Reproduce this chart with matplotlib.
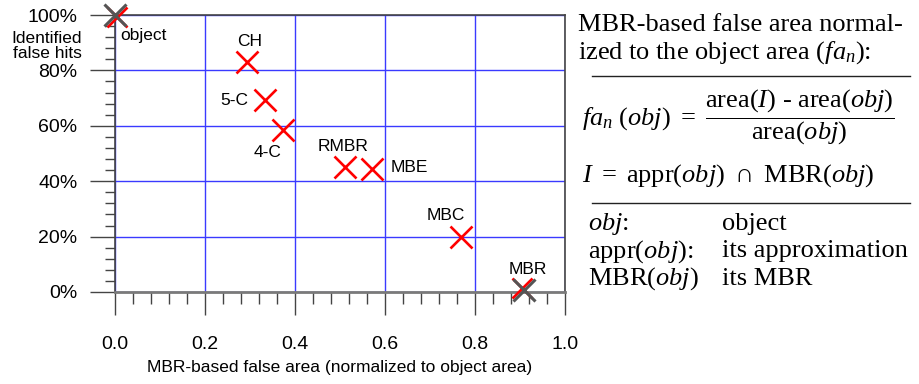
import matplotlib
matplotlib.use("Agg")
import matplotlib.pyplot as plt
from matplotlib.lines import Line2D
from matplotlib.ticker import MultipleLocator, FuncFormatter

# data: approximations (x = MBR-based false area, y = identified false hits in %)
names = ["CH", "5-C", "4-C", "RMBR", "MBE", "MBC"]
false_area = [0.293, 0.333, 0.373, 0.511, 0.571, 0.769]
false_hits = [83.0, 69.3, 58.5, 45.1, 44.4, 19.9]

# reference points drawn in gray
ref_names = ["object", "MBR"]
ref_area = [0.0, 0.908]
ref_hits = [100.0, 0.7]

plt.rcParams["font.family"] = ["Liberation Sans", "DejaVu Sans"]
plt.rcParams["mathtext.fontset"] = "custom"
plt.rcParams["mathtext.rm"] = "Liberation Serif"
plt.rcParams["mathtext.it"] = "Liberation Serif:italic"

W, H = 919, 384
fig = plt.figure(figsize=(W / 100, H / 100), dpi=100)
ax = fig.add_axes([115 / W, 1 - 292 / H, 450 / W, 277 / H])

ax.set_xlim(0, 1.0)
ax.set_ylim(0, 100)

ax.xaxis.set_major_locator(MultipleLocator(0.2))
ax.xaxis.set_minor_locator(MultipleLocator(0.04))
ax.yaxis.set_major_locator(MultipleLocator(20))
ax.yaxis.set_minor_locator(MultipleLocator(4))
ax.yaxis.set_major_formatter(FuncFormatter(lambda v, p: "%d%%" % v))
ax.xaxis.set_major_formatter(FuncFormatter(lambda v, p: "%.1f" % v))

gray = "#444444"
ax.tick_params(axis="y", which="major", direction="out", length=18, width=1, color=gray,
               labelsize=14, pad=9)
ax.tick_params(axis="y", which="minor", direction="out", length=7.2, width=1, color=gray)
ax.tick_params(axis="x", which="major", direction="out", length=16.5, width=1, color=gray,
               labelsize=14, pad=15)
ax.tick_params(axis="x", which="minor", direction="out", length=8.6, width=1, color=gray)

ax.grid(True, which="major", color="#3a3aff", linewidth=1)
ax.set_axisbelow(True)

for s in ["left", "right", "top"]:
    ax.spines[s].set_color(gray)
    ax.spines[s].set_linewidth(1.2)
ax.spines["bottom"].set_color("#7a7a7a")
ax.spines["bottom"].set_linewidth(2)

ax.set_xlabel("MBR-based false area (normalized to object area)", fontsize=12.5, labelpad=5)
fig.text(47 / W, 1 - 46 / H, "Identified\nfalse hits", ha="center", va="center",
         fontsize=12.5, linespacing=0.95)

# red crosses for approximations
ax.plot(false_area, false_hits, linestyle="none", marker="x", markersize=16,
        markeredgewidth=1.9, color="red", clip_on=False, zorder=5)
# gray crosses for object and MBR (red underneath shows slightly)
ax.plot([0.004, 0.904], [99.2, 1.5], linestyle="none", marker="x", markersize=15,
        markeredgewidth=1.9, color="red", clip_on=False, zorder=5)
ax.plot(ref_area, ref_hits, linestyle="none", marker="x", markersize=16,
        markeredgewidth=2.2, color="#555555", clip_on=False, zorder=6)

# point labels
lab_fs = 12.5
label_pos = {
    "object": (0.012, 92.5, "left"),
    "CH": (0.30, 90.5, "center"),
    "5-C": (0.265, 69.3, "center"),
    "4-C": (0.34, 50.5, "center"),
    "RMBR": (0.506, 52.5, "center"),
    "MBE": (0.612, 44.8, "left"),
    "MBC": (0.735, 27.5, "center"),
    "MBR": (0.918, 8.0, "center"),
}
for name, (x, y, ha) in label_pos.items():
    ax.text(x, y, name, ha=ha, va="center", fontsize=lab_fs, zorder=7)

# explanation panel on the right
serif = ["Liberation Serif", "DejaVu Serif"]
fs = 19


def fy(py):
    return 1 - py / H


fig.text(578 / W, fy(31), "MBR-based false area normal-", family=serif, fontsize=fs,
         va="baseline")
fig.text(578 / W, fy(59), r"ized to the object area $(fa_n)$:", family=serif, fontsize=fs,
         va="baseline")
fig.add_artist(Line2D([592 / W, 910 / W], [fy(76), fy(76)], color="#222222", linewidth=1))

fig.text(582 / W, fy(117),
         r"$fa_n\ (obj)\ =\ \dfrac{\mathrm{area}(I)\text{ - }\mathrm{area}(obj)}{\mathrm{area}(obj)}$",
         fontsize=fs, va="center")
fig.text(582 / W, fy(182), r"$I\ =\ \mathrm{appr}(obj)\ \cap\ \mathrm{MBR}(obj)$", fontsize=fs,
         va="baseline")
fig.add_artist(Line2D([592 / W, 910 / W], [fy(203), fy(203)], color="#222222", linewidth=1))

legend_left = [r"$obj$:", r"$\mathrm{appr}(obj)$:", r"$\mathrm{MBR}(obj)$"]
legend_right = ["object", "its approximation", "its MBR"]
for i, (l, r) in enumerate(zip(legend_left, legend_right)):
    yb = fy(230 + i * 27.5)
    fig.text(588 / W, yb, l, family=serif, fontsize=fs, va="baseline")
    fig.text(722 / W, yb, r, family=serif, fontsize=fs, va="baseline")

fig.savefig("out.png", dpi=100)
